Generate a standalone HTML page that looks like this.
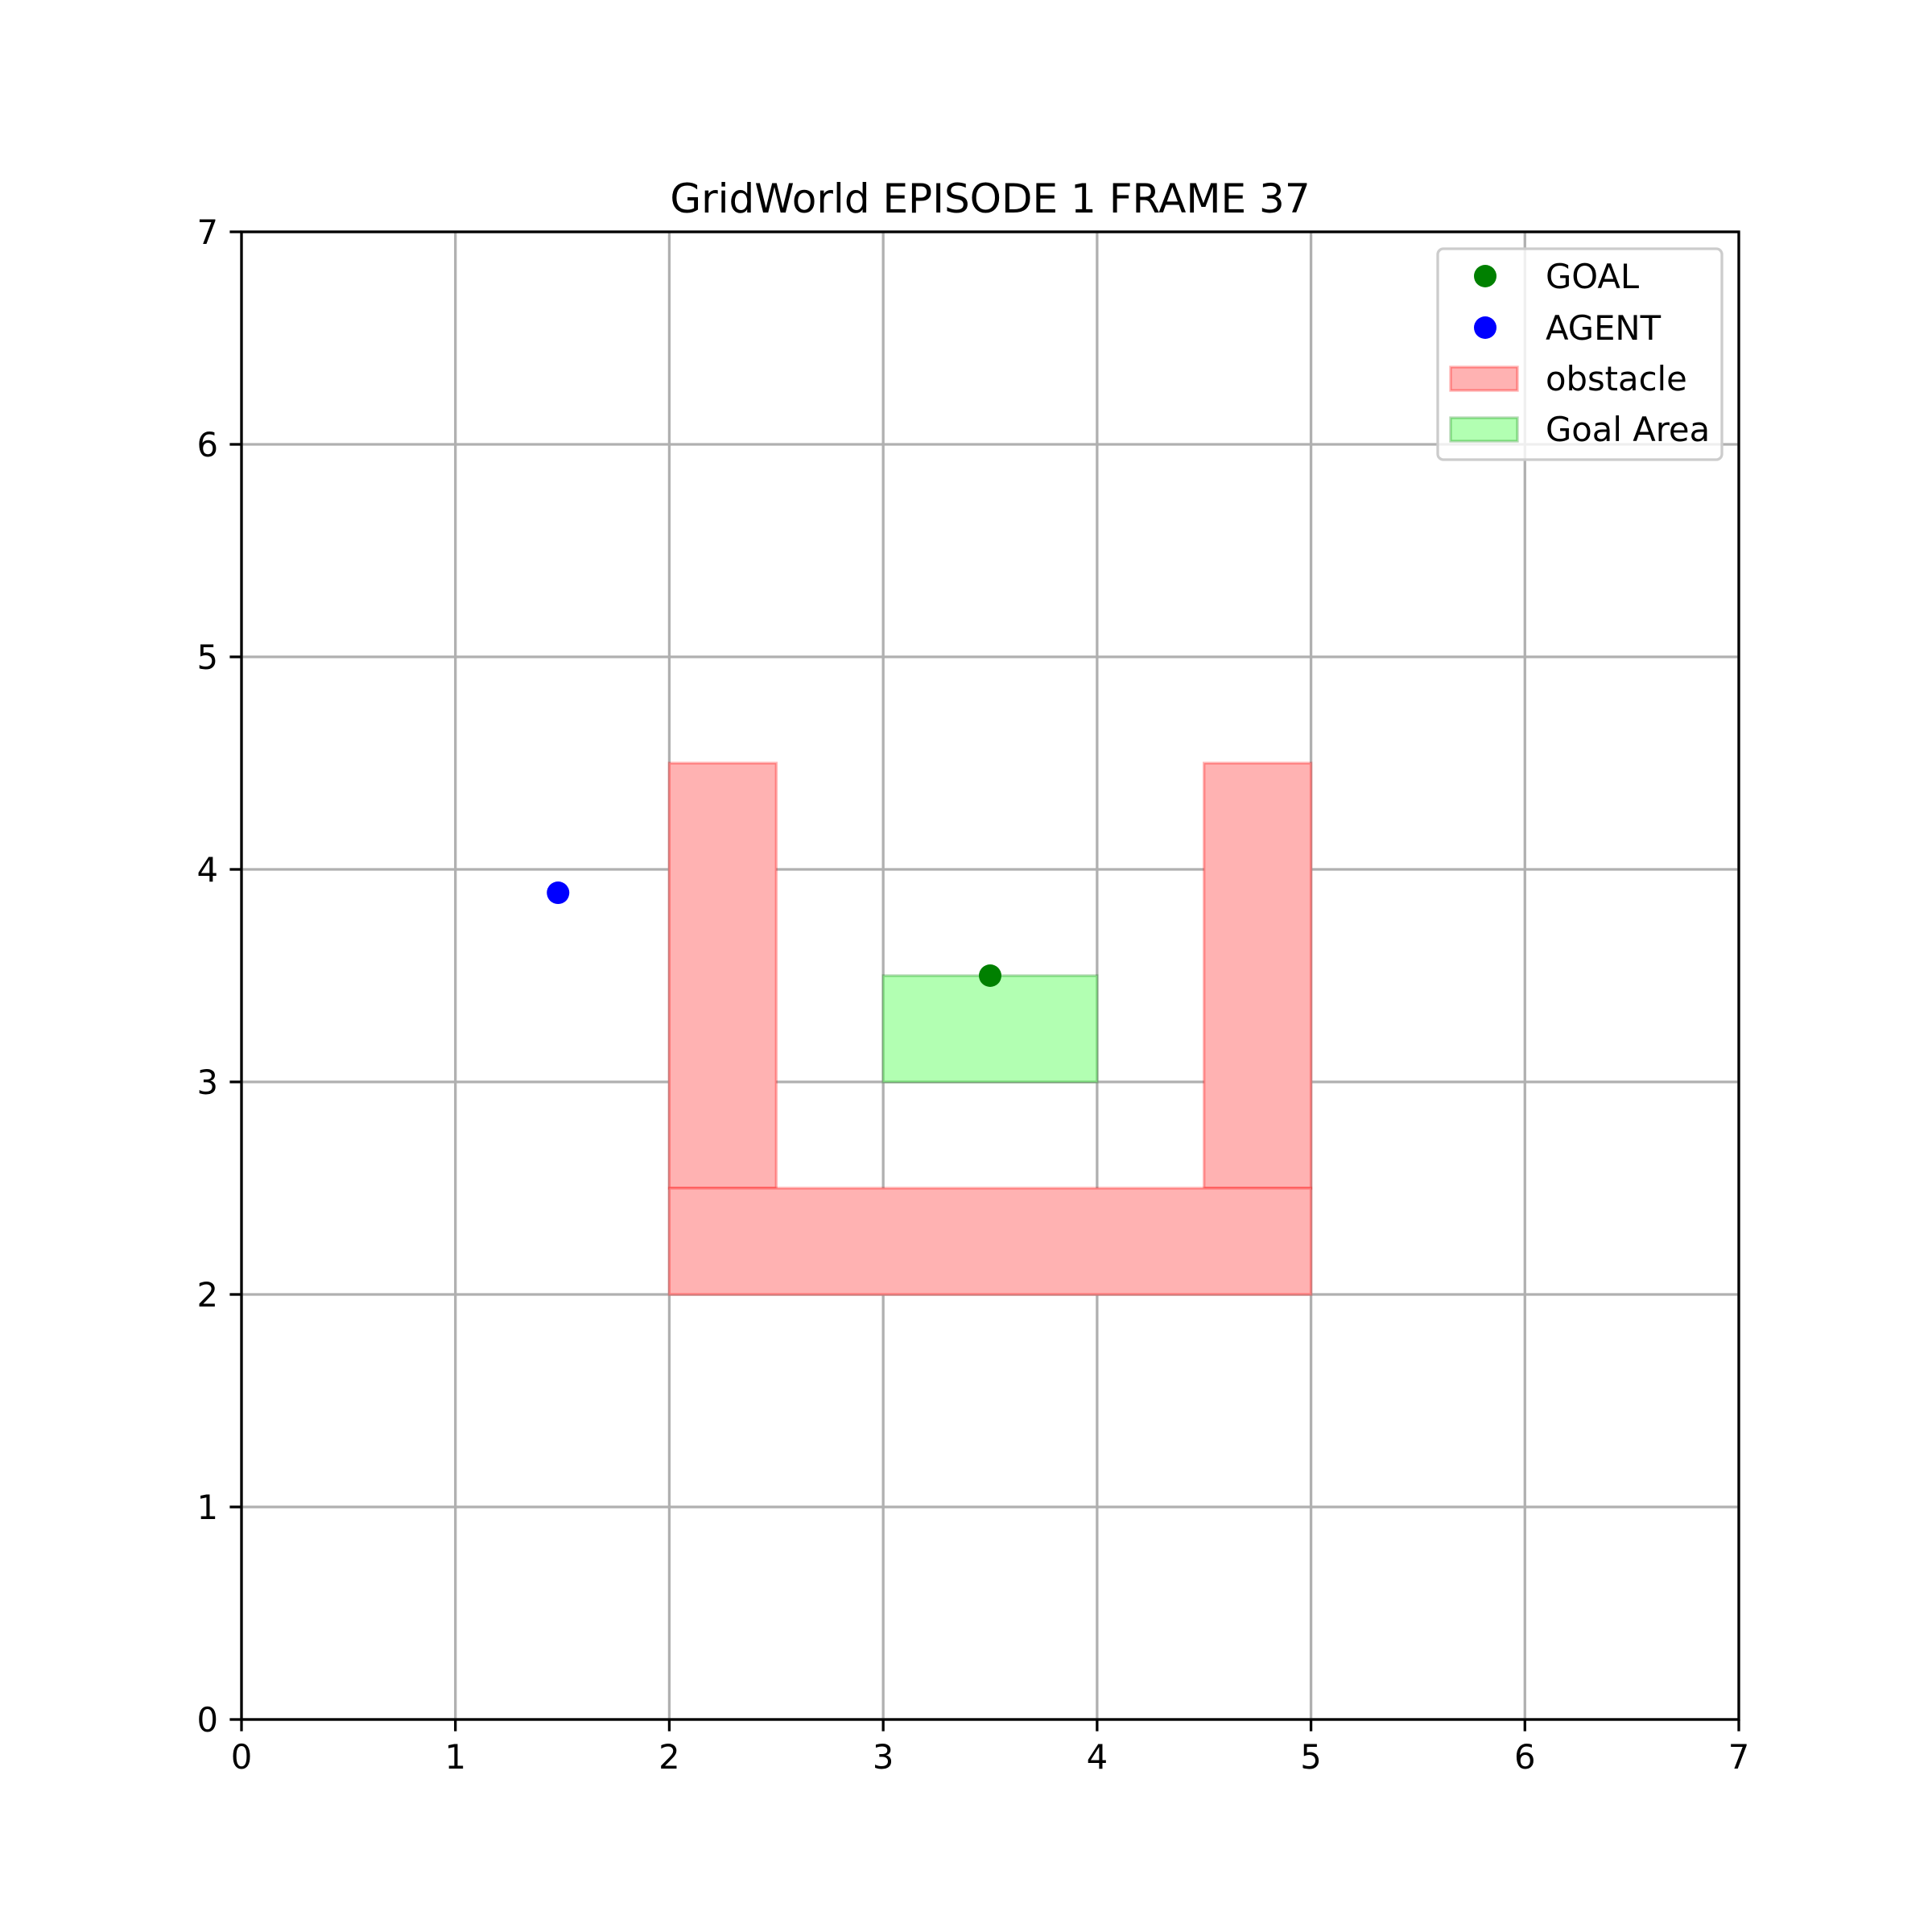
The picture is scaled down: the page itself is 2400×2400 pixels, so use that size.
<!DOCTYPE html>
<html><head><meta charset="utf-8"><style>
html,body{margin:0;padding:0;background:#fff;}
svg{display:block;font-family:"DejaVu Sans","Liberation Sans",sans-serif;}
</style></head><body>
<svg id="chart" width="2400" height="2400" viewBox="0 0 2400 2400" xmlns="http://www.w3.org/2000/svg">
<rect width="2400" height="2400" fill="#fff"/>
<text x="1230" y="264" font-size="50" text-anchor="middle" fill="#000">GridWorld EPISODE 1 FRAME 37</text>
<g id="grid"></g>
<g id="marks"></g>
<g id="axes"></g>
<g id="legend">
  <rect x="1786" y="309" width="353" height="262" rx="7" fill="#fff" fill-opacity="0.8" stroke="#cccccc" stroke-width="3.3"/>
  <circle cx="1845" cy="343" r="14" fill="#008000"/>
  <text x="1920" y="358" font-size="41.7">GOAL</text>
  <circle cx="1845" cy="407" r="14" fill="#0000ff"/>
  <text x="1920" y="422" font-size="41.7">AGENT</text>
  <rect x="1802" y="456" width="83" height="29" fill="#ffb2b2" stroke="#ff0000" stroke-opacity="0.3" stroke-width="3.3"/>
  <text x="1920" y="485" font-size="41.7">obstacle</text>
  <rect x="1802" y="519" width="83" height="29" fill="#b2ffb2" stroke="#008000" stroke-opacity="0.3" stroke-width="3.3"/>
  <text x="1920" y="548" font-size="41.7">Goal Area</text>
</g>
</svg>
<script>
const xTicks = [0,1,2,3,4,5,6,7];
const yTicks = [0,1,2,3,4,5,6,7];
const obstacleX0 = [2, 4.5, 2];
const obstacleX1 = [2.5, 5, 5];
const obstacleY0 = [2.5, 2.5, 2];
const obstacleY1 = [4.5, 4.5, 2.5];
const goalAreaX = [3, 4];
const goalAreaY = [3, 3.5];
const goalPoint = [3.5, 3.5];
const agentPoint = [1.48, 3.89];

const L=300, R=2160, T=288, B=2136;
const sx = v => L + (v/7)*(R-L);
const sy = v => B - (v/7)*(B-T);
const NS="http://www.w3.org/2000/svg";
function mk(tag, attrs, parent){const e=document.createElementNS(NS,tag);for(const k in attrs)e.setAttribute(k,attrs[k]);parent.appendChild(e);return e;}
const grid=document.getElementById('grid'), marks=document.getElementById('marks'), axes=document.getElementById('axes');

xTicks.forEach(t=>{
  const g=mk('line',{x1:sx(t),x2:sx(t),y1:T,y2:B,stroke:'#b0b0b0','stroke-width':3.3},grid);
  
  
  const tk=mk('line',{x1:sx(t),x2:sx(t),y1:B,y2:B+14.6,stroke:'#000','stroke-width':3.3},axes);
  
  
  const lb=mk('text',{x:sx(t),y:B+61,'font-size':41.7,'text-anchor':'middle'},axes);
  lb.textContent=t;
  
  
});
yTicks.forEach(t=>{
  const g=mk('line',{x1:L,x2:R,y1:sy(t),y2:sy(t),stroke:'#b0b0b0','stroke-width':3.3},grid);
  
  
  const tk=mk('line',{x1:L-14.6,x2:L,y1:sy(t),y2:sy(t),stroke:'#000','stroke-width':3.3},axes);
  
  
  const lb=mk('text',{x:L-29,y:sy(t)+15,'font-size':41.7,'text-anchor':'end'},axes);
  lb.textContent=t;
  
  
});
for(let i=0;i<obstacleX0.length;i++){
  const r=mk('rect',{x:sx(obstacleX0[i]),y:sy(obstacleY1[i]),width:sx(obstacleX1[i])-sx(obstacleX0[i]),height:sy(obstacleY0[i])-sy(obstacleY1[i]),fill:'#ffb2b2',stroke:'#ff0000','stroke-opacity':0.3,'stroke-width':3.3},marks);
  
  
}
const ga=mk('rect',{x:sx(goalAreaX[0]),y:sy(goalAreaY[1]),width:sx(goalAreaX[1])-sx(goalAreaX[0]),height:sy(goalAreaY[0])-sy(goalAreaY[1]),fill:'#b2ffb2',stroke:'#008000','stroke-opacity':0.3,'stroke-width':3.3},marks);


const gp=mk('circle',{cx:sx(goalPoint[0]),cy:sy(goalPoint[1]),r:14,fill:'#008000'},marks);


const ap=mk('circle',{cx:sx(agentPoint[0]),cy:sy(agentPoint[1]),r:14,fill:'#0000ff'},marks);


const fr=mk('rect',{x:L,y:T,width:R-L,height:B-T,fill:'none',stroke:'#000','stroke-width':3.3},axes);


</script>
</body></html>
